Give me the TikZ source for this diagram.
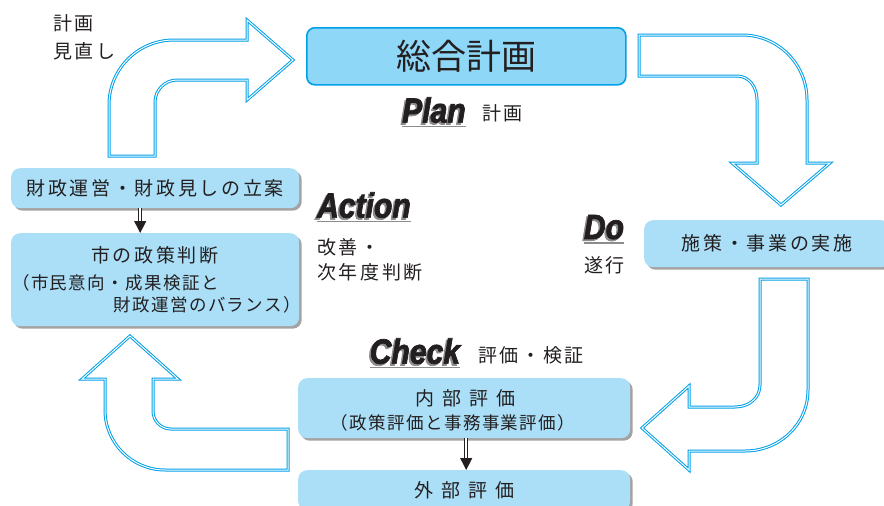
\documentclass[tikz,border=0pt]{standalone}
\usepackage{fontspec}
\setmainfont{Noto Sans CJK JP}
\newfontfamily\pdcafont[FakeStretch=0.86,FakeBold=2]{Liberation Sans}
\usetikzlibrary{shadows,arrows.meta}

\definecolor{boxblue}{HTML}{ABDFF7}
\definecolor{titleblue}{HTML}{8ED7F6}
\definecolor{lineblue}{HTML}{00A0E9}
\definecolor{shadowgray}{HTML}{A3A3A3}
\definecolor{pdcagray}{HTML}{8C8C8C}
\definecolor{ink}{HTML}{231F20}

\newcommand{\titletext}{\fontsize{35}{40}\selectfont}
\newcommand{\lbltext}{\fontsize{19}{25}\selectfont\addfontfeature{LetterSpace=14}}
\newcommand{\smltext}{\fontsize{17.5}{22}\selectfont\addfontfeature{LetterSpace=8}}
\newcommand{\pdcatext}{\pdcafont\bfseries\itshape\fontsize{35}{40}\selectfont}
\newcommand{\wsp}{\hspace{8pt}}
% word with its grey drop copy
\newcommand{\pdcaword}[1]{\makebox[0pt][l]{\hspace*{-1.8pt}\raisebox{-1.8pt}{\color{pdcagray}#1}}#1}

\tikzset{
  blockarrow/.style={draw=lineblue, line width=1pt, double=white, double distance=1pt, fill=white, line join=miter},
  titlebox/.style={anchor=north west, fill=titleblue, draw=lineblue, line width=1.6pt, rounded corners=8pt, inner sep=0pt, text=ink, font=\titletext},
  infobox/.style={anchor=north west, fill=boxblue, rounded corners=9pt, inner sep=0pt, text=ink, font=\lbltext,
    drop shadow={shadow xshift=2.5pt, shadow yshift=-2.5pt, fill=shadowgray, opacity=1}},
  lbl/.style={inner sep=0pt, text=ink, font=\lbltext},
  pdca/.style={inner sep=0pt, text=ink, font=\pdcatext},
  underbar/.style={draw=pdcagray, line width=1.8pt},
  dblarrow/.style={draw=ink, line width=0.9pt, double=white, double distance=2.2pt, -{Triangle[length=12pt, width=12pt]}},
}

\begin{document}
\begin{tikzpicture}[x=1pt,y=-1pt]
  \useasboundingbox (0,0) rectangle (884,506);

  % cycle arrows
  \draw[blockarrow] (109,156) -- (109,105) .. controls (109,69) and (138,40) .. (174,40)
    -- (247,40) -- (247,20) -- (293,60) -- (247,100) -- (247,80) -- (177,80)
    .. controls (165,80) and (155,90) .. (155,102) -- (155,156) -- cycle;
  \draw[blockarrow] (639,35) -- (742,35) .. controls (778,35) and (807,64) .. (807,100)
    -- (807,163) -- (830,163) -- (781,205) -- (732,163) -- (757,163) -- (757,100)
    .. controls (757,87) and (749,76) .. (737,76) -- (639,76) -- cycle;
  \draw[blockarrow] (760,279) -- (808,279) -- (808,390) .. controls (808,424) and (780,451) .. (745,451)
    -- (689,451) -- (689,470) -- (642,428) -- (689,386) -- (689,407) -- (735,407)
    .. controls (749,407) and (760,398) .. (760,385) -- cycle;
  \draw[blockarrow] (288,429) -- (288,470) -- (165,470) .. controls (132,470) and (105,443) .. (105,410)
    -- (105,379) -- (82,379) -- (130,336) -- (178,379) -- (153,379) -- (153,411)
    .. controls (153,421) and (161,429) .. (171,429) -- cycle;

  % boxes
  \node[titlebox, minimum width=319pt, minimum height=57pt] (sogo) at (306,27) {総合計画};
  \node[infobox, minimum width=288pt, minimum height=40pt] (zaisei) at (11,168) {財政運営・財政見しの立案};
  \node[infobox, minimum width=288pt, minimum height=93pt] (handan) at (11,233) {};
  \node[lbl] (handan1) at (155,255) {市の政策判断};
  \node[lbl, font=\smltext, anchor=west] (handan2) at (12,283) {（市民意向・成果検証と};
  \node[lbl, font=\smltext, anchor=east] (handan3) at (301,305) {財政運営のバランス）};
  \node[infobox, minimum width=246pt, minimum height=47pt] (shisaku) at (644,220) {施策・事業の実施};
  \node[infobox, minimum width=332pt, minimum height=60pt] (naibu) at (298,378) {};
  \node[lbl] (naibu1) at (465,398) {内\wsp 部\wsp 評\wsp 価};
  \node[lbl, font=\smltext] (naibu2) at (453,423) {（政策評価と事務事業評価）};
  \node[infobox, minimum width=332pt, minimum height=40pt] (gaibu) at (298,470) {外\wsp 部\wsp 評\wsp 価};

  \draw[dblarrow] ([xshift=-15pt]zaisei.south) -- ([xshift=-15pt]handan.north);
  \draw[dblarrow] ([xshift=2pt]naibu.south) -- ([xshift=2pt]gaibu.north);

  % PDCA labels
  \foreach \nm/\px/\py/\word in {lplan/434/111/Plan, laction/364/206/Action, ldo/604/228/Do, lcheck/415/352/Check} {
    \node[pdca] (\nm) at (\px,\py) {\pdcaword{\word}};
    \draw[underbar] ([yshift=-1.5pt]\nm.south west) -- ([yshift=-1.5pt]\nm.south east);
  }
  \node[lbl, anchor=west, align=left] (minaoshi) at (53,37) {計画\\[3pt]見直し};
  \node[lbl, anchor=west] (tplan) at (482,113) {計画};
  \node[lbl, anchor=west, align=left] (kaizen) at (317,259.5) {改善・\\次年度判断};
  \node[lbl, anchor=west] (suiko) at (584,265) {遂行};
  \node[lbl, anchor=west] (hyoka) at (478,355) {評価・検証};
\end{tikzpicture}
\end{document}
